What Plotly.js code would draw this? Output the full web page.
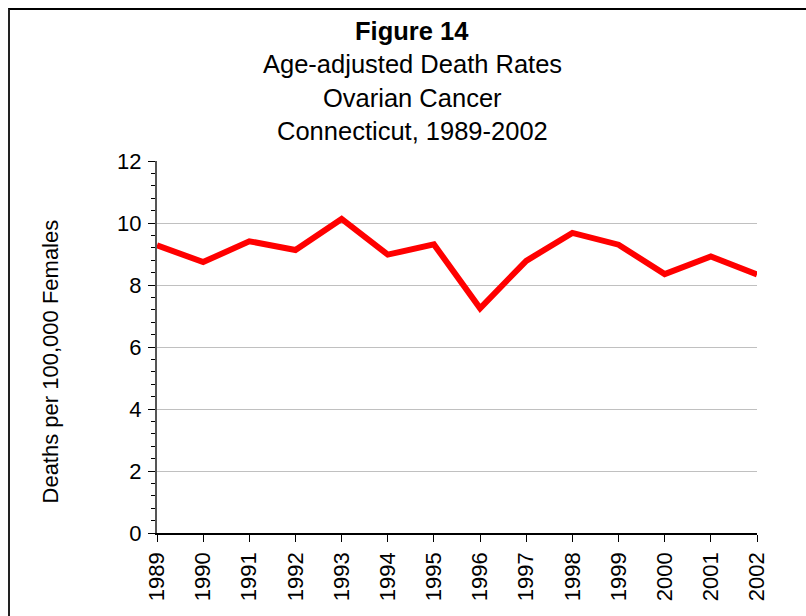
<!DOCTYPE html>
<html>
<head>
<meta charset="utf-8">
<script src="https://cdn.plot.ly/plotly-3.0.1.min.js"></script>
<style>
  html, body { margin: 0; padding: 0; background: #fff; }
  #wrap { position: relative; width: 806px; height: 616px; overflow: hidden; }
  #chart { position: absolute; left: 0; top: 0; width: 806px; height: 616px; }
  #frame { position: absolute; left: 8px; top: 8px; width: 820px; height: 640px;
           border-top: 2px solid #000; border-left: 2px solid #222; pointer-events: none; z-index: 10; }
</style>
</head>
<body>
<div id="wrap"><div id="chart"></div><div id="frame"></div></div>
<script>
const years = ["1989","1990","1991","1992","1993","1994","1995","1996","1997","1998","1999","2000","2001","2002"];
const rates = [9.28, 8.74, 9.41, 9.13, 10.13, 8.98, 9.31, 7.25, 8.78, 9.68, 9.3, 8.35, 8.92, 8.34];
const yTicks = [0, 2, 4, 6, 8, 10, 12];
const titleLines = ["<b>Figure 14</b>", "Age-adjusted Death Rates", "Ovarian Cancer", "Connecticut, 1989-2002"];
const yTitle = "Deaths per 100,000 Females";

const FONT = "Liberation Sans, Arial, sans-serif";
const titleY = [1.3495, 1.2608, 1.1694, 1.0806];

const annotations = titleLines.map((t, i) => ({
  text: t, xref: 'paper', yref: 'paper', x: 0.425, y: titleY[i],
  xanchor: 'center', yanchor: 'middle', showarrow: false,
  font: { family: FONT, size: 25.5, color: '#000' }
}));
annotations.push({
  text: yTitle, xref: 'paper', yref: 'paper', x: -0.1767, y: 0.461,
  xanchor: 'center', yanchor: 'middle', textangle: -90, showarrow: false,
  font: { family: FONT, size: 22, color: '#000' }
});

const trace = {
  x: years, y: rates, type: 'scatter', mode: 'lines',
  line: { color: '#ff0000', width: 6 }, hoverinfo: 'skip'
};

const layout = {
  width: 806, height: 616,
  margin: { l: 157, r: 49, t: 161, b: 83, pad: 0 },
  paper_bgcolor: '#fff', plot_bgcolor: '#fff',
  showlegend: false,
  font: { family: FONT, size: 22, color: '#000' },
  xaxis: {
    type: 'category', range: [0, years.length - 1],
    showgrid: false, zeroline: false,
    showline: true, linecolor: '#000', linewidth: 1.5,
    ticks: 'outside', ticklen: 7, tickwidth: 1, tickcolor: '#000',
    tickangle: -90, tickfont: { family: FONT, size: 22, color: '#000' },
    ticklabelstandoff: 2,
    fixedrange: true
  },
  yaxis: {
    range: [0, 12], tickvals: yTicks, ticktext: yTicks.map(String),
    showgrid: true, gridcolor: '#c0c0c0', gridwidth: 1,
    zeroline: false, showline: true, linecolor: '#555', linewidth: 2,
    ticks: 'outside', ticklen: 7, tickwidth: 1, tickcolor: '#000',
    minor: { dtick: 0.4, ticks: 'outside', ticklen: 4, tickwidth: 1, tickcolor: '#000', showgrid: false },
    tickfont: { family: FONT, size: 22, color: '#000' },
    ticklabelstandoff: 2,
    fixedrange: true
  },
  annotations: annotations
};

Plotly.newPlot('chart', [trace], layout, { staticPlot: true, displayModeBar: false });
</script>
</body>
</html>
